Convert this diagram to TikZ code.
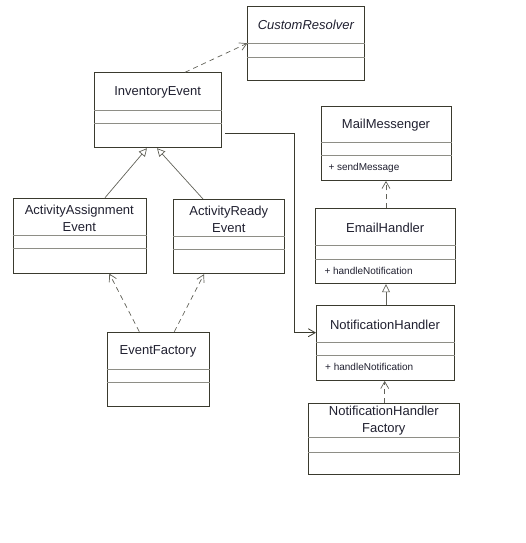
\documentclass[tikz,border=0pt]{standalone}
\usepackage{fontspec}
\setmainfont{Liberation Sans}
\usetikzlibrary{arrows.meta,calc}
\definecolor{edge}{HTML}{3A3A2E}
\definecolor{divc}{HTML}{8E8E86}
\definecolor{txt}{HTML}{202030}
\tikzset{
  cls/.style={draw=edge, line width=0.9pt, fill=white, anchor=north west, inner sep=0pt, minimum width=#1},
  ttl/.style={text=txt, font=\fontsize{13}{16.5}\selectfont, align=center, inner sep=0pt},
  ttlit/.style={ttl, font=\fontsize{13}{16.5}\selectfont\itshape},
  opr/.style={text=txt, font=\fontsize{10}{12}\selectfont, anchor=west, inner sep=0pt},
  dv/.style={draw=divc, line width=0.9pt},
  dep/.style={draw=edge!80, line width=0.7pt, dash pattern=on 5pt off 4pt, -{Straight Barb[length=7pt,width=8pt]}},
  gen/.style={draw=edge!80, line width=0.7pt, -{Triangle[open,length=8pt,width=8pt]}},
  asc/.style={draw=edge, line width=0.8pt, -{Straight Barb[length=7pt,width=8pt]}}
}
\begin{document}
\begin{tikzpicture}[x=1pt,y=-1pt]
\useasboundingbox (0,0) rectangle (525,543);
% CustomResolver
\node[cls=117pt, minimum height=74pt] (cr) at (247.3,6.3) {};
\node[ttlit] (crt) at (305.8,25) {CustomResolver};
\draw[dv] (cr.west |- 0,43.3) -- (cr.east |- 0,43.3);
\draw[dv] (cr.west |- 0,57.3) -- (cr.east |- 0,57.3);
% InventoryEvent
\node[cls=126.7pt, minimum height=75pt] (inv) at (94.3,72.3) {};
\node[ttl] (invt) at (157.7,92) {InventoryEvent};
\draw[dv] (inv.west |- 0,110) -- (inv.east |- 0,110);
\draw[dv] (inv.west |- 0,123.7) -- (inv.east |- 0,123.7);
% ActivityAssignmentEvent
\node[cls=133.3pt, minimum height=75pt] (aae) at (12.7,197.7) {};
\node[ttl] (aaet) at (79.3,218.5) {ActivityAssignment\\Event};
\draw[dv] (aae.west |- 0,235.7) -- (aae.east |- 0,235.7);
\draw[dv] (aae.west |- 0,248) -- (aae.east |- 0,248);
% ActivityReadyEvent
\node[cls=111pt, minimum height=74.3pt] (are) at (173.3,199) {};
\node[ttl] (aret) at (228.8,219.5) {ActivityReady\\Event};
\draw[dv] (are.west |- 0,236.3) -- (are.east |- 0,236.3);
\draw[dv] (are.west |- 0,249) -- (are.east |- 0,249);
% EventFactory
\node[cls=102.6pt, minimum height=74.3pt] (ef) at (106.7,331.7) {};
\node[ttl] (eft) at (158,351.7) {EventFactory};
\draw[dv] (ef.west |- 0,369) -- (ef.east |- 0,369);
\draw[dv] (ef.west |- 0,382.7) -- (ef.east |- 0,382.7);
% MailMessenger
\node[cls=129.4pt, minimum height=74.3pt] (mm) at (321.3,105.7) {};
\node[ttl] (mmt) at (386,125) {MailMessenger};
\draw[dv] (mm.west |- 0,142) -- (mm.east |- 0,142);
\draw[dv] (mm.west |- 0,155.3) -- (mm.east |- 0,155.3);
\node[opr] (mmo) at (328.3,168.3) {+ sendMessage};
% EmailHandler
\node[cls=139.7pt, minimum height=75pt] (eh) at (315.3,208.3) {};
\node[ttl] (eht) at (385.2,228) {EmailHandler};
\draw[dv] (eh.west |- 0,245.7) -- (eh.east |- 0,245.7);
\draw[dv] (eh.west |- 0,259.3) -- (eh.east |- 0,259.3);
\node[opr] (eho) at (324.3,270.7) {+ handleNotification};
% NotificationHandler
\node[cls=138pt, minimum height=74.7pt] (nh) at (316,305.3) {};
\node[ttl] (nht) at (385,325) {NotificationHandler};
\draw[dv] (nh.west |- 0,342.7) -- (nh.east |- 0,342.7);
\draw[dv] (nh.west |- 0,355.3) -- (nh.east |- 0,355.3);
\node[opr] (nho) at (325,367.3) {+ handleNotification};
% NotificationHandlerFactory
\node[cls=151pt, minimum height=71.3pt] (nhf) at (308.3,402.7) {};
\node[ttl] (nhft) at (383.8,420.5) {NotificationHandler\\Factory};
\draw[dv] (nhf.west |- 0,437.7) -- (nhf.east |- 0,437.7);
\draw[dv] (nhf.west |- 0,452.3) -- (nhf.east |- 0,452.3);
% connectors
\draw[dep] (inv.north -| 185,0) -- (cr.west |- 0,43.3);
\draw[gen] (aae.north -| 105,0) -- (inv.south -| 147,0);
\draw[gen] (are.north -| 203,0) -- (inv.south -| 157,0);
\draw[dep] (ef.north -| 139.3,0) -- (aae.south -| 109.3,0);
\draw[dep] (ef.north -| 174.3,0) -- (are.south -| 204,0);
\coordinate (ca) at (294,133.3);
\coordinate (cb) at (294,332.7);
\draw[asc] (inv.east |- ca) ++(3,0) -- (ca) -- (cb) -- (nh.west |- cb);
\draw[dep] (eh.north -| 386,0) -- (mm.south -| 386,0);
\draw[gen] (nh.north -| 386,0) -- (eh.south -| 386,0);
\draw[dep] (nhf.north -| 384.7,0) -- (nh.south -| 384.7,0);
\end{tikzpicture}
\end{document}
